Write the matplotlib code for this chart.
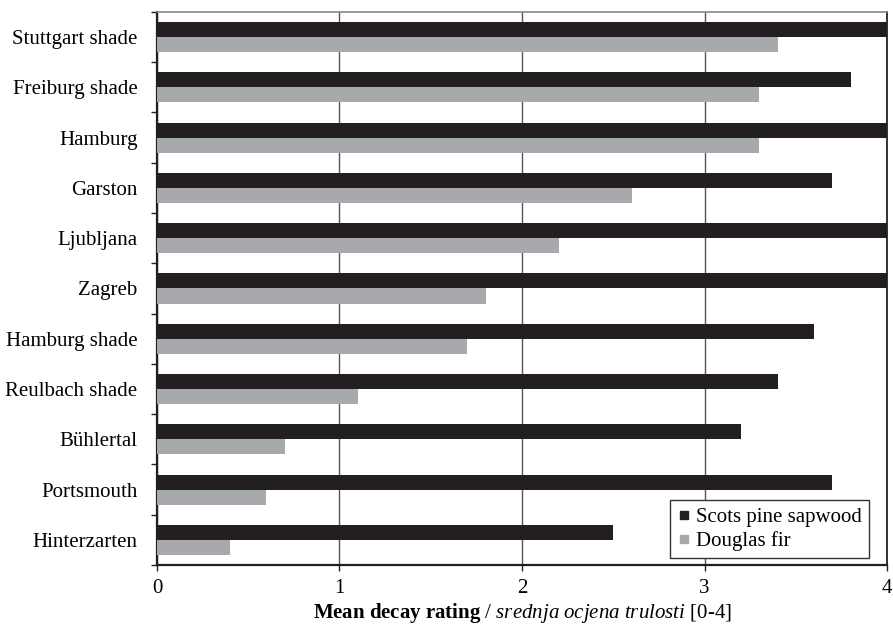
import matplotlib.pyplot as plt
import numpy as np
from matplotlib.lines import Line2D

plt.rcParams['font.family'] = ['Liberation Serif', 'DejaVu Serif']
plt.rcParams['mathtext.fontset'] = 'custom'
plt.rcParams['mathtext.rm'] = 'Liberation Serif'
plt.rcParams['mathtext.it'] = 'Liberation Serif:italic'
plt.rcParams['mathtext.bf'] = 'Liberation Serif:bold'

# Data (top to bottom)
sites = ["Stuttgart shade", "Freiburg shade", "Hamburg", "Garston", "Ljubljana",
         "Zagreb", "Hamburg shade", "Reulbach shade", "Bühlertal", "Portsmouth",
         "Hinterzarten"]
scots_pine = [4.0, 3.8, 4.0, 3.7, 4.0, 4.0, 3.6, 3.4, 3.2, 3.7, 2.5]
douglas_fir = [3.4, 3.3, 3.3, 2.6, 2.2, 1.8, 1.7, 1.1, 0.7, 0.6, 0.4]
x_ticks = [0, 1, 2, 3, 4]

black = '#231f20'
grey = '#a7a9ac'
fs = 15

fig = plt.figure(figsize=(8.93, 6.28), dpi=100)
ax = fig.add_axes([0.1758, 0.1003, 0.8175, 0.8807])

y = np.arange(len(sites))
h = 0.3
ax.barh(y - h / 2, scots_pine, height=h, color=black, zorder=3)
ax.barh(y + h / 2, douglas_fir, height=h, color=grey, zorder=3)

ax.set_xlim(0, 4)
ax.set_ylim(len(sites) - 0.5, -0.5)

ax.set_yticks(y)
ax.set_yticklabels(sites, fontsize=fs)
ax.set_yticks(np.arange(len(sites) + 1) - 0.5, minor=True)
ax.tick_params(axis='y', which='major', length=0, pad=14)
ax.tick_params(axis='y', which='minor', length=4, width=1, color=black, direction='out')

ax.set_xticks(x_ticks)
ax.set_xticklabels([str(t) for t in x_ticks], fontsize=fs)
ax.tick_params(axis='x', length=4, width=1, color=black, direction='out', pad=6)

ax.grid(axis='x', color='#555555', linewidth=1.0, zorder=0)

for side in ['left', 'bottom']:
    ax.spines[side].set_linewidth(1.6)
    ax.spines[side].set_color(black)
ax.spines['right'].set_linewidth(1.4)
ax.spines['right'].set_color('#333333')
ax.spines['top'].set_linewidth(1.2)
ax.spines['top'].set_color('#888888')

# axis title (bold / italic / plain parts)
fig.text(0.5845, 1 - 613 / 628,
         r'$\mathbf{Mean\ decay\ rating}$ / $\mathit{srednja\ ocjena\ trulosti}$ [0-4]',
         fontsize=fs, ha='center', va='center')

handles = [Line2D([], [], marker='s', linestyle='', markersize=6, color=black,
                  label='Scots pine sapwood'),
           Line2D([], [], marker='s', linestyle='', markersize=6, color=grey,
                  label='Douglas fir')]
leg = ax.legend(handles=handles, loc='lower right', bbox_to_anchor=(0.976, 0.012),
                borderaxespad=0, fontsize=fs, frameon=True, fancybox=False,
                edgecolor='#333333', framealpha=1, handlelength=0.6,
                handletextpad=0.3, labelspacing=0.2, borderpad=0.35)
leg.get_frame().set_linewidth(1.0)

fig.savefig('out.png', dpi=100)
